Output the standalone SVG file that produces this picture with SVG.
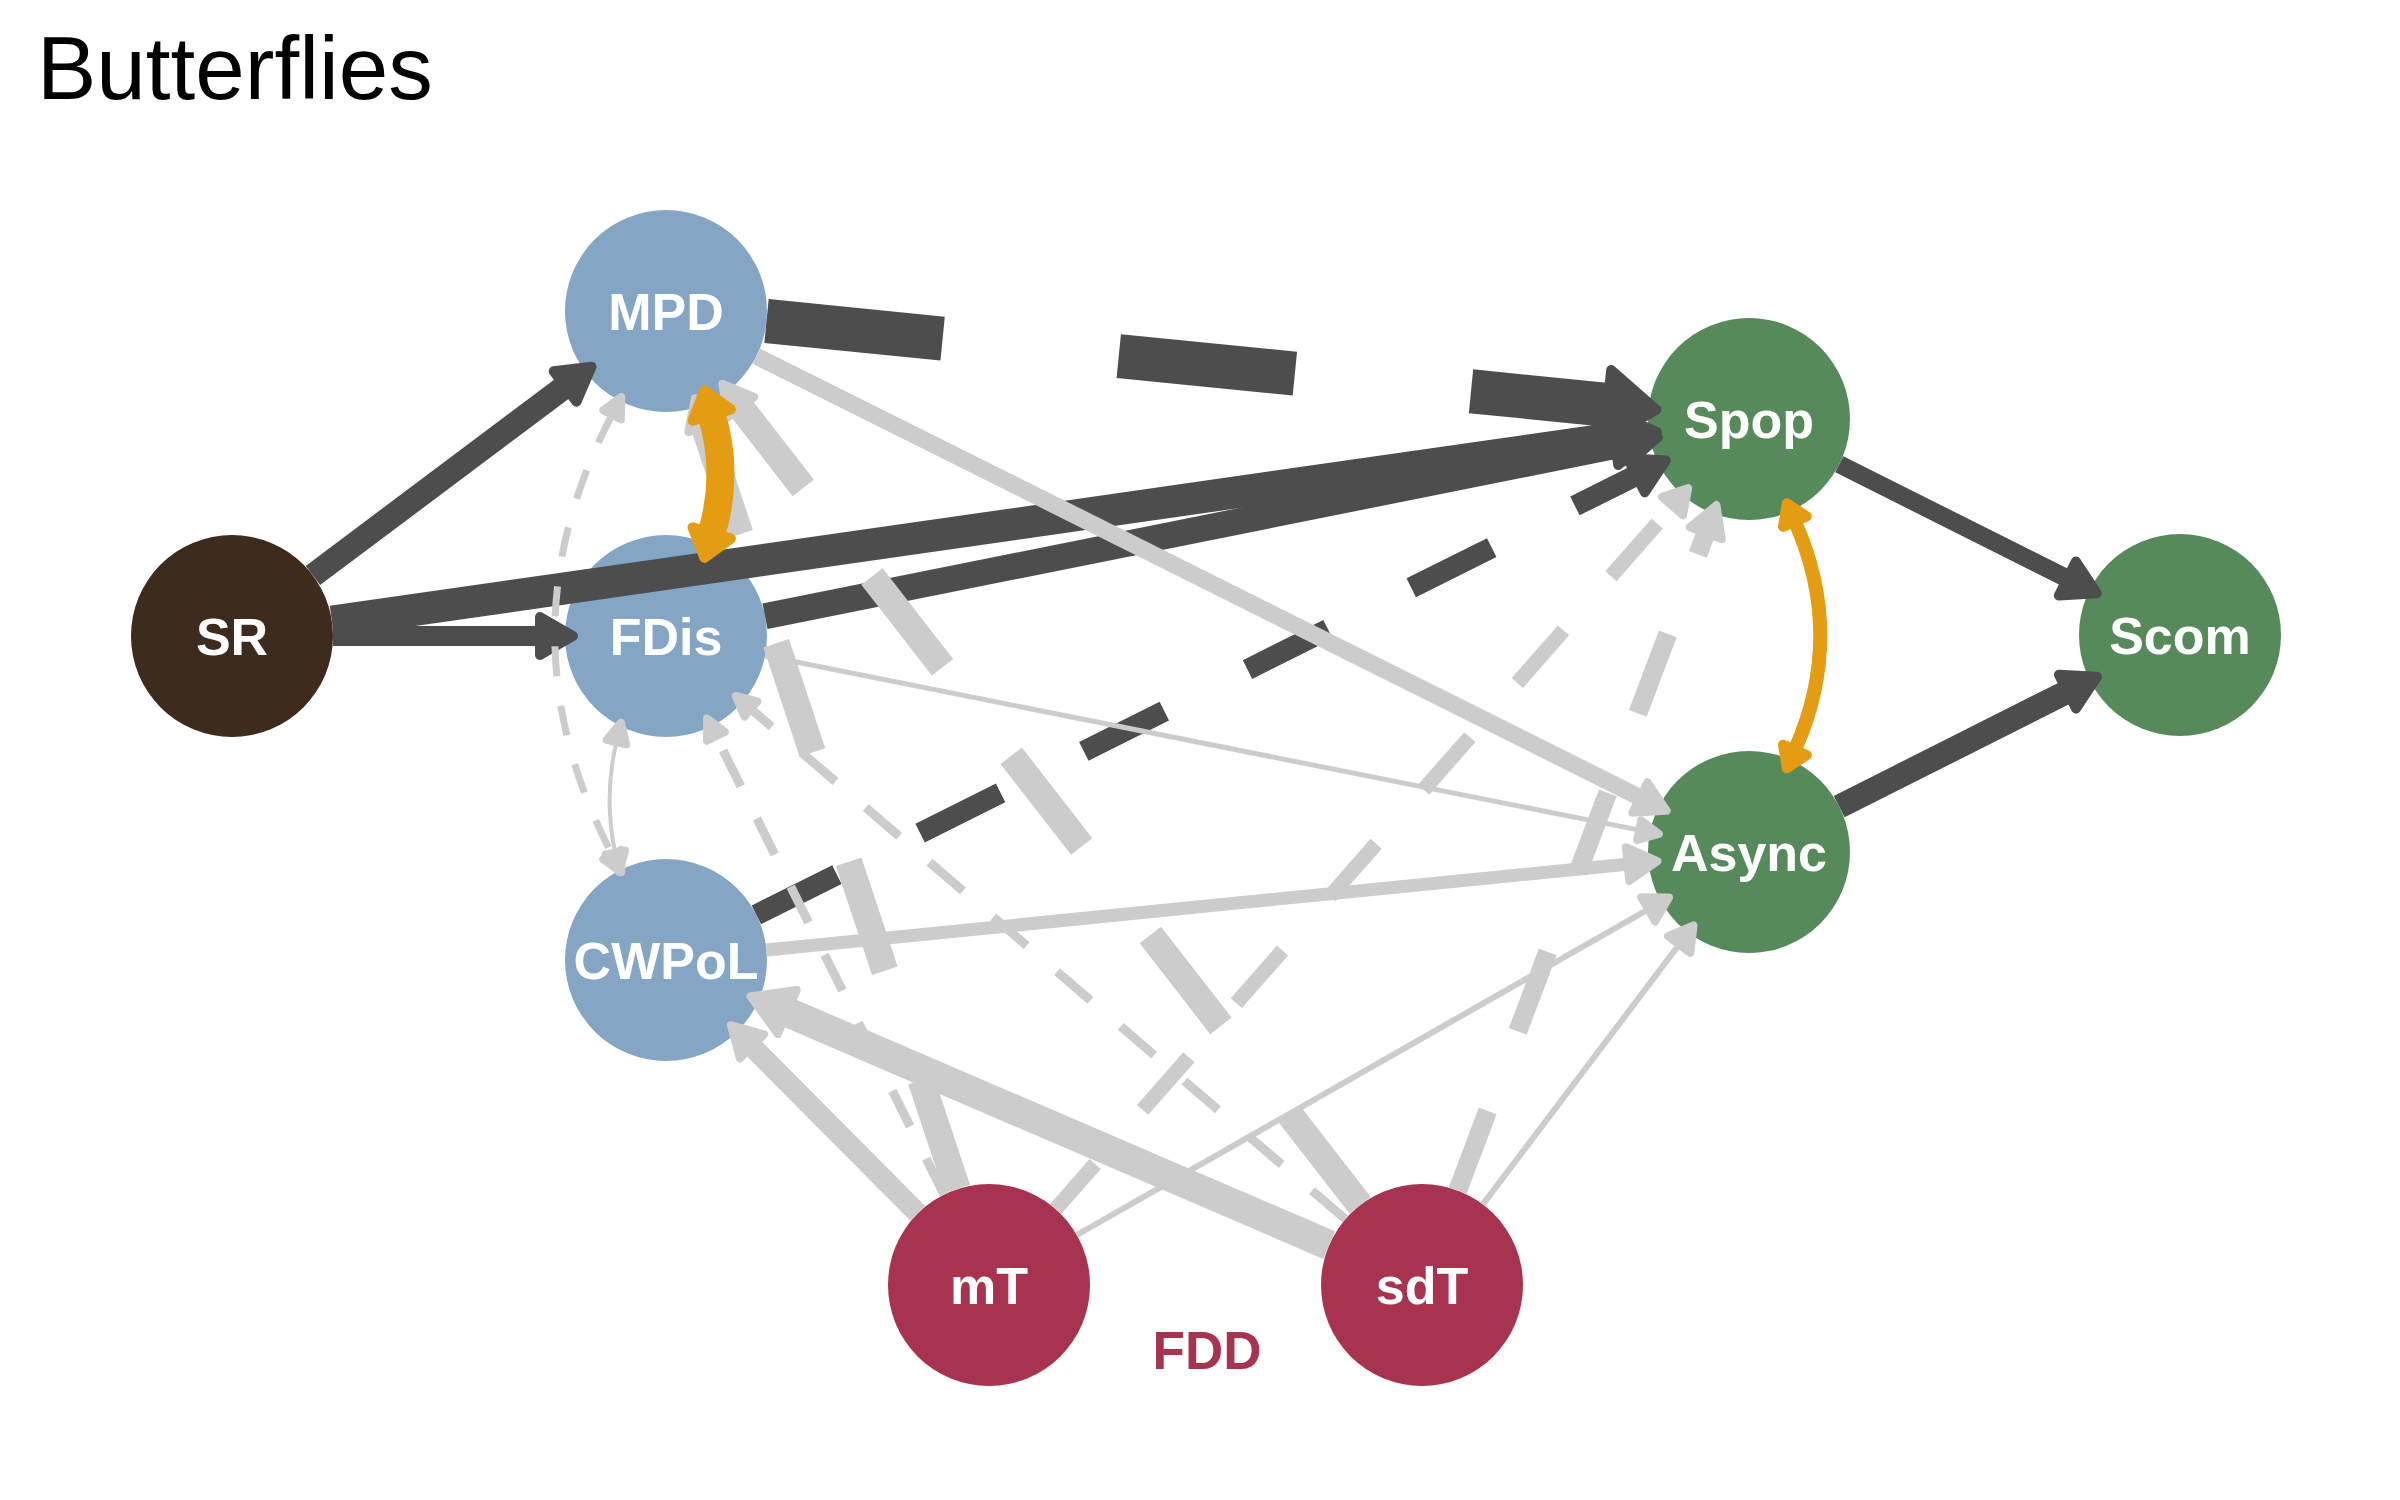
<svg xmlns="http://www.w3.org/2000/svg" width="2400" height="1500" viewBox="0 0 2400 1500">
<defs>
<style>
.title{font-family:"Liberation Sans",Arial,sans-serif;font-size:89px;fill:#000;}
.lbl{font-family:"Liberation Sans",Arial,sans-serif;font-weight:bold;font-size:52px;fill:#fff;text-anchor:middle;}
.fdd{font-family:"Liberation Sans",Arial,sans-serif;font-weight:bold;font-size:53px;fill:#A8334F;text-anchor:middle;}
.e{fill:none;stroke-linecap:butt;}
.dk{stroke:#4D4D4D;}
.gr{stroke:#CCCCCC;}
.or{stroke:#E49C12;}
.ahd{fill:#4D4D4D;stroke:#4D4D4D;stroke-width:10;stroke-linejoin:round;}
.ahg{fill:#CCCCCC;stroke:#CCCCCC;stroke-width:8;stroke-linejoin:round;}
.aho{fill:#E49C12;stroke:#E49C12;stroke-width:10;stroke-linejoin:round;}
</style>
<marker id="aDk" markerUnits="userSpaceOnUse" orient="auto-start-reverse" overflow="visible" markerWidth="10" markerHeight="10" refX="0" refY="0"><path class="ahd" d="M1,-19L34,0L1,19Z"/></marker>
<marker id="aDkL" markerUnits="userSpaceOnUse" orient="auto-start-reverse" overflow="visible" markerWidth="10" markerHeight="10" refX="0" refY="0"><path class="ahd" d="M1,-27L44,0L1,27Z"/></marker>
<marker id="aDkB" markerUnits="userSpaceOnUse" orient="auto-start-reverse" overflow="visible" markerWidth="10" markerHeight="10" refX="0" refY="0"><path class="ahd" d="M1,-35L50,0L1,35Z"/></marker>
<marker id="aGr" markerUnits="userSpaceOnUse" orient="auto-start-reverse" overflow="visible" markerWidth="10" markerHeight="10" refX="0" refY="0"><path class="ahg" d="M1,-17L31,0L1,17Z"/></marker>
<marker id="aGrB" markerUnits="userSpaceOnUse" orient="auto-start-reverse" overflow="visible" markerWidth="10" markerHeight="10" refX="0" refY="0"><path class="ahg" d="M1,-24L41,0L1,24Z"/></marker>
<marker id="aGrM" markerUnits="userSpaceOnUse" orient="auto-start-reverse" overflow="visible" markerWidth="10" markerHeight="10" refX="0" refY="0"><path class="ahg" d="M1,-14L25,0L1,14Z"/></marker>
<marker id="aGrS" markerUnits="userSpaceOnUse" orient="auto-start-reverse" overflow="visible" markerWidth="10" markerHeight="10" refX="0" refY="0"><path class="ahg" d="M1,-10L21,0L1,10Z"/></marker>
<marker id="aOr" markerUnits="userSpaceOnUse" orient="auto-start-reverse" overflow="visible" markerWidth="10" markerHeight="10" refX="0" refY="0"><path class="aho" d="M1,-20L27,0L1,20Z"/></marker>
<marker id="aOrS" markerUnits="userSpaceOnUse" orient="auto-start-reverse" overflow="visible" markerWidth="10" markerHeight="10" refX="0" refY="0"><path class="aho" d="M1,-13L21,0L1,13Z"/></marker>
</defs>
<rect x="0" y="0" width="2400" height="1500" fill="#FFFFFF"/>
<text class="title" x="37" y="99">Butterflies</text>

<g id="node-SR"><circle cx="232" cy="636" r="101" fill="#3D2B1E"/><text class="lbl" x="232" y="655">SR</text></g>
<g id="node-MPD"><circle cx="666" cy="311" r="101" fill="#84A6C4"/><text class="lbl" x="666" y="330">MPD</text></g>
<g id="node-FDis"><circle cx="666" cy="636" r="101" fill="#84A6C4"/><text class="lbl" x="666" y="655">FDis</text></g>
<g id="node-CWPoL"><circle cx="666" cy="960" r="101" fill="#84A6C4"/><text class="lbl" x="666" y="979">CWPoL</text></g>
<g id="node-Spop"><circle cx="1749" cy="419" r="101" fill="#568A5B"/><text class="lbl" x="1749" y="438">Spop</text></g>
<g id="node-Async"><circle cx="1749" cy="852" r="101" fill="#568A5B"/><text class="lbl" x="1749" y="871">Async</text></g>
<g id="node-Scom"><circle cx="2180" cy="635" r="101" fill="#568A5B"/><text class="lbl" x="2180" y="654">Scom</text></g>
<g id="node-mT"><circle cx="989" cy="1285" r="101" fill="#A8334F"/><text class="lbl" x="989" y="1304">mT</text></g>
<g id="node-sdT"><circle cx="1422" cy="1285" r="101" fill="#A8334F"/><text class="lbl" x="1422" y="1304">sdT</text></g>
<g id="label-FDD"><text class="fdd" x="1207" y="1369">FDD</text></g>

<g id="connectors">
<g id="edges-dark">
<path class="e dk" stroke-width="24" d="M312.9,575.5L564.3,387.1" marker-end="url(#aDk)"/>
<path class="e dk" stroke-width="20" d="M333,636L539,636" marker-end="url(#aDk)"/>
<path class="e dk" stroke-width="32" d="M332,621.7L1613.4,438.4" marker-end="url(#aDkL)"/>
<path class="e dk" stroke-width="26" d="M765,616.2L1624.5,444" marker-end="url(#aDk)"/>
<path class="e dk" stroke-width="18" d="M1839.3,464.3L2066.5,578.1" marker-end="url(#aDk)"/>
<path class="e dk" stroke-width="24" d="M1839.2,806.6L2066.6,692.1" marker-end="url(#aDk)"/>
<path class="e dk" stroke-width="44" stroke-dasharray="177 177" d="M766.5,321L1606.7,404.8" marker-end="url(#aDkB)"/>
<path class="e dk" stroke-width="21" stroke-dasharray="90 93" d="M756.4,914.9L1635.4,475.75" marker-end="url(#aDk)"/>
</g>
<g id="edges-gray">
<path class="e gr" stroke-width="17" d="M756.4,356.1L1639,797" marker-end="url(#aGr)"/>
<path class="e gr" stroke-width="5" d="M765,655.8L1638.2,829.9" marker-end="url(#aGrS)"/>
<path class="e gr" stroke-width="13" d="M766.5,950L1626.6,864.2" marker-end="url(#aGr)"/>
<path class="e gr" stroke-width="21" d="M917.8,1213.4L752.7,1047.2" marker-end="url(#aGr)"/>
<path class="e gr" stroke-width="30" d="M1329.2,1245.1L788.2,1012.5" marker-end="url(#aGrB)"/>
<path class="e gr" stroke-width="6" d="M1076.8,1235L1647.3,909.9" marker-end="url(#aGrM)"/>
<path class="e gr" stroke-width="6" d="M1482.9,1204.4L1678.5,945.4" marker-end="url(#aGrM)"/>
<path class="e gr" stroke-width="27" stroke-dasharray="115 115" d="M957.2,1189.1L704.7,427.7" marker-end="url(#aGr)"/>
<path class="e gr" stroke-width="27" stroke-dasharray="115 112" d="M1360.1,1205.2L741.4,408.2" marker-end="url(#aGr)"/>
<path class="e gr" stroke-width="9" stroke-dasharray="40 36" d="M944,1194.6L716.4,737.2" marker-end="url(#aGrS)"/>
<path class="e gr" stroke-width="9" stroke-dasharray="44 40" d="M1345.4,1219.2L751.7,709.6" marker-end="url(#aGrS)"/>
<path class="e gr" stroke-width="15" stroke-dasharray="70 72" stroke-dashoffset="10" d="M1055.6,1209.1L1671.8,506.9" marker-end="url(#aGrM)"/>
<path class="e gr" stroke-width="19" stroke-dasharray="85 85" d="M1457.7,1190.5L1705.5,534.1" marker-end="url(#aGr)"/>
<path class="e gr" stroke-width="7" stroke-dasharray="30 30" d="M611.6,415.7Q498,634 611.6,853.7" marker-start="url(#aGrS)" marker-end="url(#aGrS)"/>
<path class="e gr" stroke-width="4" d="M616.2,743.1Q603.6,797.5 615,851.7" marker-start="url(#aGrS)" marker-end="url(#aGrS)"/>
</g>
<g id="edges-orange">
<path class="e or" stroke-width="28" d="M712,416Q729,474 712,532" marker-start="url(#aOr)" marker-end="url(#aOr)"/>
<path class="e or" stroke-width="14" d="M1795.3,522.5Q1845.3,635.7 1795.3,749" marker-start="url(#aOrS)" marker-end="url(#aOrS)"/>
</g>
</g>
</svg>
